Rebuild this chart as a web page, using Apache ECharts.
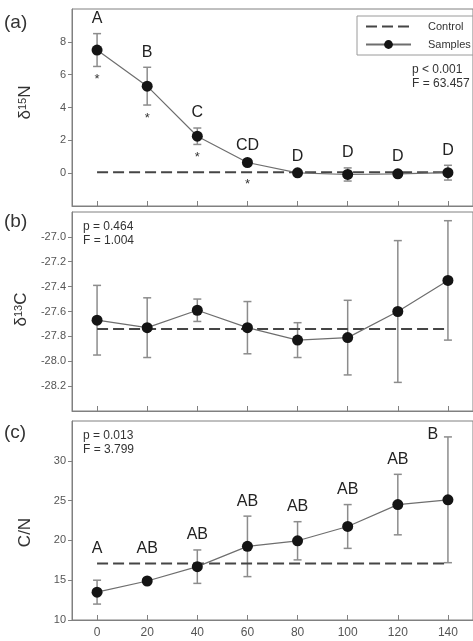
<!DOCTYPE html>
<html>
<head>
<meta charset="utf-8">
<script src="https://cdn.jsdelivr.net/npm/echarts@6.0.0/dist/echarts.min.js"></script>
<style>
  html, body { margin: 0; padding: 0; background: #fff; }
  #chart { width: 473px; height: 641px; }
</style>
</head>
<body>
<div id="chart"></div>
<script>
// depth / time steps on the shared x axis
const depth = [0, 20, 40, 60, 80, 100, 120, 140]
const xTicks = [0, 20, 40, 60, 80, 100, 120, 140]

// (a) d15N
const n15Mean = [7.5, 5.3, 2.25, 0.65, 0.02, -0.08, -0.04, 0.03]
const n15Err = [1.0, 1.15, 0.5, 0.12, 0.1, 0.4, 0.12, 0.45]
const n15Control = 0.05
const n15Letters = ['A', 'B', 'C', 'CD', 'D', 'D', 'D', 'D']
const n15Stars = ['*', '*', '*', '*', '', '', '', '']
const n15Ticks = [0, 2, 4, 6, 8]

// (b) d13C
const c13Mean = [-27.67, -27.73, -27.59, -27.73, -27.83, -27.81, -27.6, -27.35]
const c13Err = [0.28, 0.24, 0.09, 0.21, 0.14, 0.3, 0.57, 0.48]
const c13Control = -27.74
const c13Ticks = [-28.2, -28.0, -27.8, -27.6, -27.4, -27.2, -27.0]

// (c) C/N
const cnMean = [13.5, 14.9, 16.7, 19.25, 19.95, 21.75, 24.5, 25.1]
const cnErr = [1.5, 0.25, 2.1, 3.8, 2.4, 2.75, 3.8, 7.9]
const cnControl = 17.1
const cnLetters = ['A', 'AB', 'AB', 'AB', 'AB', 'AB', 'AB', 'B']
const cnTicks = [10, 15, 20, 25, 30]

const FONT = '"Liberation Sans", Arial, sans-serif'
const AXIS_COLOR = '#808080'
const LABEL_COLOR = '#555'

const chart = echarts.init(document.getElementById('chart'))

function errorBars(params, api) {
  const x = api.value(0)
  const m = api.value(1)
  const e = api.value(2)
  const top = api.coord([x, m + e])
  const bot = api.coord([x, m - e])
  const w = 4
  const style = { stroke: '#8c8c8c', lineWidth: 1.5 }
  return {
    type: 'group',
    children: [
      { type: 'line', shape: { x1: top[0], y1: top[1], x2: bot[0], y2: bot[1] }, style },
      { type: 'line', shape: { x1: top[0] - w, y1: top[1], x2: top[0] + w, y2: top[1] }, style },
      { type: 'line', shape: { x1: bot[0] - w, y1: bot[1], x2: bot[0] + w, y2: bot[1] }, style }
    ]
  }
}

// group letters above the bars, asterisks below
function annotations(letters, stars, ctrl) {
  return function (params, api) {
    const i = params.dataIndex
    const x = api.value(0)
    const m = api.value(1)
    const e = api.value(2)
    const pTop = api.coord([x, m + e])
    const pBot = api.coord([x, m - e])
    const pCtrl = api.coord([x, ctrl])
    const children = []
    if (letters && letters[i]) {
      let lx = pTop[0]
      let ly = Math.min(pTop[1], pCtrl[1]) - 15
      if (ly < params.coordSys.y + 8) {
        lx -= 15
        ly = pTop[1] - 2
      }
      children.push({
        type: 'text', x: lx, y: ly,
        style: { text: letters[i], font: '16px ' + FONT, fill: '#222', align: 'center', verticalAlign: 'middle' }
      })
    }
    if (stars && stars[i]) {
      let sy = pBot[1] + 13
      if (Math.abs(sy - 3 - pCtrl[1]) < 7) sy = pCtrl[1] + 12
      children.push({
        type: 'text', x: pBot[0], y: sy,
        style: { text: stars[i], font: '13px ' + FONT, fill: '#333', align: 'center', verticalAlign: 'middle' }
      })
    }
    return { type: 'group', children }
  }
}

const grids = [
  { left: 72, right: -13, top: 9, height: 197 },
  { left: 72, right: -13, top: 212, height: 199 },
  { left: 72, right: -13, top: 421, height: 199 }
].map((g) => ({ ...g, show: true, borderColor: AXIS_COLOR, borderWidth: 1 }))

function xAxis(gi, showLabels) {
  return {
    type: 'value', gridIndex: gi, min: -10, max: 150,
    axisLine: { onZero: false, lineStyle: { color: AXIS_COLOR } },
    axisTick: { show: true, inside: true, length: 5, customValues: xTicks, lineStyle: { color: AXIS_COLOR } },
    axisLabel: {
      show: showLabels, customValues: xTicks, margin: 7,
      color: LABEL_COLOR, fontSize: 12, fontFamily: FONT
    },
    splitLine: { show: false }
  }
}

function yAxis(gi, min, max, ticks, name, dec, namePad) {
  return {
    type: 'value', gridIndex: gi, min, max,
    name, nameLocation: 'middle', nameGap: 38,
    nameTextStyle: {
      color: '#333', fontFamily: FONT, padding: namePad,
      rich: {
        b: { fontSize: 17, fontFamily: FONT, color: '#333' },
        s: { fontSize: 11, fontFamily: FONT, color: '#333', verticalAlign: 'top' }
      }
    },
    axisLine: { show: true, onZero: false, lineStyle: { color: AXIS_COLOR } },
    axisTick: { show: true, length: 4, customValues: ticks, lineStyle: { color: AXIS_COLOR } },
    axisLabel: {
      customValues: ticks, margin: 6,
      color: LABEL_COLOR, fontSize: 11, fontFamily: FONT,
      formatter: (v) => v.toFixed(dec)
    },
    splitLine: { show: false }
  }
}

function controlSeries(gi, value, name) {
  return {
    name, type: 'line', xAxisIndex: gi, yAxisIndex: gi,
    data: [[depth[0], value], [depth[depth.length - 1], value]],
    symbol: 'none', silent: true, z: 2,
    itemStyle: { color: '#454545' },
    lineStyle: { color: '#454545', width: 2, type: [11, 5] }
  }
}

function sampleSeries(gi, mean, name) {
  return {
    name, type: 'line', xAxisIndex: gi, yAxisIndex: gi,
    data: depth.map((d, i) => [d, mean[i]]),
    symbol: 'circle', symbolSize: 11, z: 4,
    itemStyle: { color: '#141414' },
    lineStyle: { color: '#6e6e6e', width: 1.2 }
  }
}

function errSeries(gi, mean, err) {
  return {
    type: 'custom', xAxisIndex: gi, yAxisIndex: gi, z: 1, silent: true,
    data: depth.map((d, i) => [d, mean[i], err[i]]),
    renderItem: errorBars
  }
}

function annSeries(gi, mean, err, letters, stars, ctrl) {
  return {
    type: 'custom', xAxisIndex: gi, yAxisIndex: gi, z: 5, silent: true,
    data: depth.map((d, i) => [d, mean[i], err[i]]),
    renderItem: annotations(letters, stars, ctrl)
  }
}

function statText(left, top, lines) {
  return {
    type: 'text', left, top,
    style: { text: lines.join('\n'), font: '12px ' + FONT, fill: '#333', lineHeight: 14 }
  }
}

function panelLabel(left, top, text) {
  return {
    type: 'text', left, top,
    style: { text, font: '19px ' + FONT, fill: '#333' }
  }
}

chart.setOption({
  animation: false,
  grid: grids,
  xAxis: [xAxis(0, false), xAxis(1, false), xAxis(2, true)],
  yAxis: [
    yAxis(0, -2, 10, n15Ticks, '{b|δ}{s|15}{b|N}', 0, [0, 0, 0, 10]),
    yAxis(1, -28.4, -26.8, c13Ticks, '{b|δ}{s|13}{b|C}', 1, [0, 0, 0, 4]),
    yAxis(2, 10, 35, cnTicks, '{b|C/N}', 0, [0, 24, 0, 0])
  ],
  legend: {
    data: [
      { name: 'Control', itemStyle: { opacity: 0 } },
      'Samples'
    ],
    orient: 'vertical', left: 357, top: 16,
    itemWidth: 45, itemHeight: 11, itemGap: 7,
    padding: [5, 8, 5, 8],
    borderColor: '#9a9a9a', borderWidth: 1,
    textStyle: { color: '#333', fontSize: 11, fontFamily: FONT, padding: [0, 0, 0, 12] },
    selectedMode: false
  },
  series: [
    controlSeries(0, n15Control, 'Control'),
    errSeries(0, n15Mean, n15Err),
    sampleSeries(0, n15Mean, 'Samples'),
    annSeries(0, n15Mean, n15Err, n15Letters, n15Stars, n15Control),

    controlSeries(1, c13Control, 'Control'),
    errSeries(1, c13Mean, c13Err),
    sampleSeries(1, c13Mean, 'Samples'),

    controlSeries(2, cnControl, 'Control'),
    errSeries(2, cnMean, cnErr),
    sampleSeries(2, cnMean, 'Samples'),
    annSeries(2, cnMean, cnErr, cnLetters, null, cnControl)
  ],
  graphic: [
    panelLabel(4, 13, '(a)'),
    panelLabel(4, 212, '(b)'),
    panelLabel(4, 423, '(c)'),
    statText(412, 63, ['p < 0.001', 'F = 63.457']),
    statText(83, 220, ['p = 0.464', 'F = 1.004']),
    statText(83, 429, ['p = 0.013', 'F = 3.799'])
  ]
})
</script>
</body>
</html>
